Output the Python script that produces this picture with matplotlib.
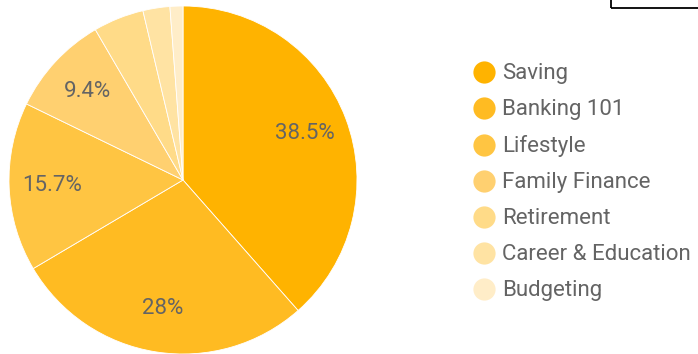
import matplotlib
matplotlib.use('Agg')
import matplotlib.pyplot as plt
from matplotlib.lines import Line2D
from matplotlib.patches import Rectangle

categories = ['Saving', 'Banking 101', 'Lifestyle', 'Family Finance',
              'Retirement', 'Career & Education', 'Budgeting']
shares = [38.5, 28.0, 15.7, 9.4, 4.7, 2.5, 1.2]
colors = ['#FFB300', '#FFBB22', '#FFC542', '#FFD070',
          '#FFDB88', '#FFE3A3', '#FFEDC8']

text_color = '#646464'
plt.rcParams['font.family'] = ['Roboto', 'DejaVu Sans']
FS = 16.0


def fmt_pct(p):
    if p < 5:
        return ''
    s = '{:.1f}'.format(p)
    if s.endswith('.0'):
        s = s[:-2]
    return s + '%'


W, H = 698, 354
fig = plt.figure(figsize=(W / 100, H / 100), dpi=100)

# pie axes: center (183, 180) px from top-left, radius 174 px
cx, cy, r = 183, 180, 174
ax = fig.add_axes([(cx - r) / W, (H - cy - r) / H, 2 * r / W, 2 * r / H])
wedges, texts, autotexts = ax.pie(
    shares, colors=colors, startangle=90, counterclock=False,
    autopct=fmt_pct, pctdistance=0.75, radius=1,
    wedgeprops=dict(edgecolor='white', linewidth=0.6),
    textprops=dict(color=text_color, fontsize=FS))
ax.set_xlim(-1, 1)
ax.set_ylim(-1, 1)
ax.set_aspect('equal')
ax.axis('off')

handles = [Line2D([], [], marker='o', linestyle='none', markersize=16,
                  markerfacecolor=c, markeredgecolor='none') for c in colors]
fig.legend(handles, categories, loc='upper left',
           bbox_to_anchor=(464 / W, 1 - 54.5 / H), frameon=False,
           fontsize=FS, labelcolor=text_color, handlelength=1.0,
           handletextpad=0.33, labelspacing=0.675, borderaxespad=0)

# partial box at the top right edge
fig.add_artist(Rectangle((611 / W, 1 - 8 / H), 0.2, 0.2,
                         transform=fig.transFigure, fill=False,
                         edgecolor='black', linewidth=1.3, clip_on=False))

fig.savefig('out.png', dpi=100)
